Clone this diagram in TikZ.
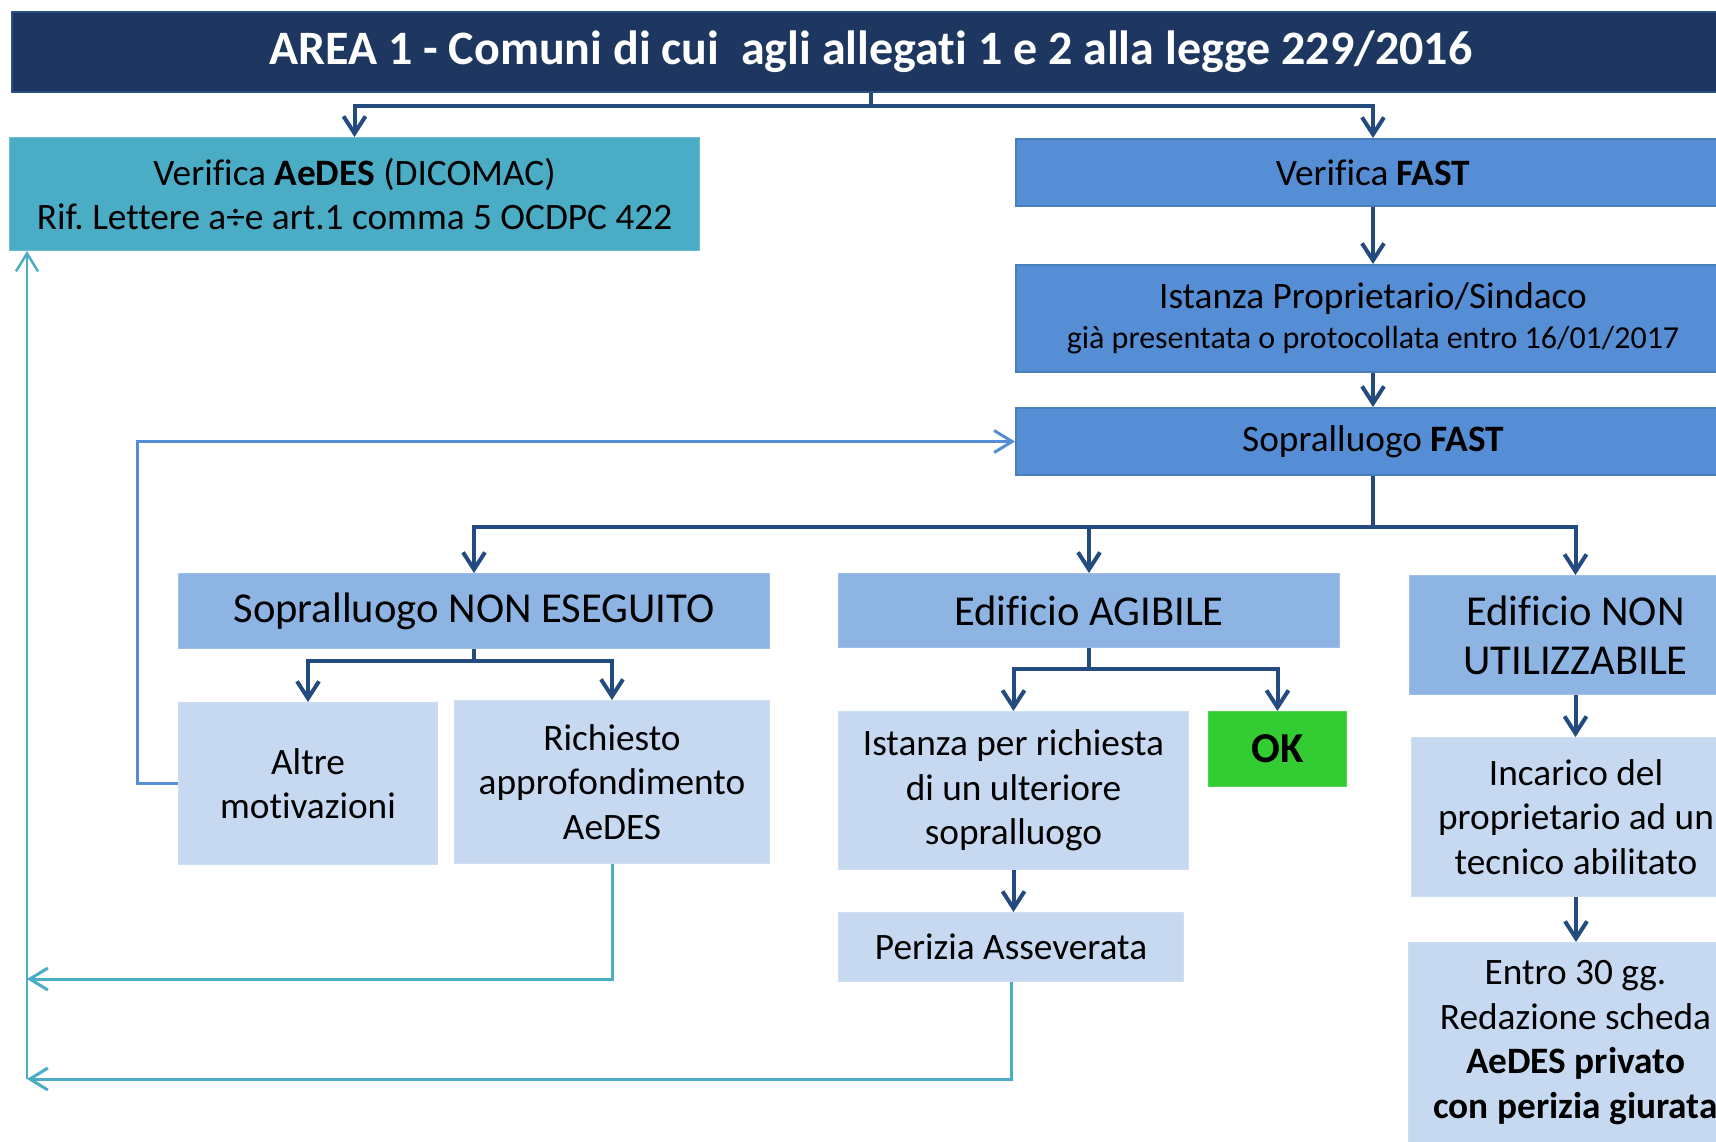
\documentclass[tikz,border=0pt]{standalone}
\usepackage{fontspec}
\setmainfont[Ligatures=NoCommon]{Carlito}
\usetikzlibrary{arrows.meta,calc}
\frenchspacing
\definecolor{titlec}{HTML}{1D3761}
\definecolor{titleedge}{HTML}{2C4F86}
\definecolor{aedesc}{HTML}{4BACC6}
\definecolor{fastc}{HTML}{558ED5}
\definecolor{fastedge}{HTML}{4A7EBB}
\definecolor{midc}{HTML}{8EB4E3}
\definecolor{lightc}{HTML}{C6D9F1}
\definecolor{okc}{HTML}{33CC33}
\definecolor{navyc}{HTML}{234B80}
\definecolor{cyanc}{HTML}{4BACC6}
\definecolor{bluec}{HTML}{558ED5}
\tikzset{
  basebox/.style={anchor=north west, inner sep=0pt, align=center, text=black, font=\fontsize{37.3}{44.5}\selectfont},
  titlebox/.style={basebox, fill=titlec, draw=titleedge, line width=1.5pt, text=white, font=\fontsize{48}{56}\selectfont\bfseries},
  aedesbox/.style={basebox, fill=aedesc, draw=aedesc!80!white, line width=1pt},
  fastbox/.style={basebox, fill=fastc, draw=fastedge, line width=2pt},
  midbox/.style={basebox, fill=midc, draw=midc!85!white, line width=1pt, font=\fontsize{42.6}{49}\selectfont},
  lightbox/.style={basebox, fill=lightc, draw=lightc!85!white, line width=1pt},
  okbox/.style={basebox, fill=okc, draw=okc!85!white, line width=1pt, font=\fontsize{42.6}{49}\selectfont\bfseries},
  navyarrow/.style={draw=navyc, line width=4pt, -{Straight Barb[length=17pt,width=22pt]}},
  cyanarrow/.style={draw=cyanc, line width=3pt, -{Straight Barb[length=18pt,width=22pt]}},
  bluearrow/.style={draw=bluec, line width=3pt, -{Straight Barb[length=18pt,width=22pt]}},
}
\begin{document}
\begin{tikzpicture}[x=1pt,y=-1pt]
\useasboundingbox (0,0) rectangle (1716,1141);
\clip (0,0) rectangle (1716,1141);
\fill[white] (0,0) rectangle (1716,1141);

\node[titlebox, minimum width=1718pt, minimum height=80pt] (title) at (11,11) {AREA 1 - Comuni di cui\ \ agli allegati 1 e 2 alla legge 229/2016};

\node[aedesbox, minimum width=690pt, minimum height=113pt] (aedes) at (9,137) {Verifica \textbf{AeDES} (DICOMAC)\\Rif. Lettere a÷e art.1 comma 5 OCDPC 422};

\node[fastbox, minimum width=714pt, minimum height=67pt] (vfast) at (1015,138) {Verifica \textbf{FAST}};
\node[fastbox, minimum width=714pt, minimum height=107pt, font=\fontsize{37.3}{40}\selectfont] (istanza) at (1015,264) {Istanza Proprietario/Sindaco\\{\fontsize{32}{40}\selectfont già presentata o protocollata entro 16/01/2017}};
\node[fastbox, minimum width=714pt, minimum height=67pt] (sfast) at (1015,407) {Sopralluogo \textbf{FAST}};

\node[midbox, minimum width=591pt, minimum height=75pt] (nonese) at (178,573) {Sopralluogo NON ESEGUITO};
\node[midbox, minimum width=501pt, minimum height=74pt] (agib) at (838,573) {Edificio AGIBILE};
\node[midbox, minimum width=332pt, minimum height=119pt] (nonutil) at (1409,575) {Edificio NON\\UTILIZZABILE};

\node[lightbox, minimum width=259pt, minimum height=162pt] (altre) at (178,702) {Altre\\motivazioni};
\node[lightbox, minimum width=315pt, minimum height=163pt] (richiesto) at (454,700) {Richiesto\\approfondimento\\AeDES};
\node[lightbox, minimum width=350pt, minimum height=158pt] (istric) at (838,711) {Istanza per richiesta\\di un ulteriore\\sopralluogo};
\node[okbox, minimum width=138pt, minimum height=75pt] (ok) at (1208,711) {OK};
\node[lightbox, minimum width=345pt, minimum height=69pt] (perizia) at (838,912) {Perizia Asseverata};
\node[lightbox, minimum width=329pt, minimum height=159pt] (incarico) at (1411,737) {Incarico del\\proprietario ad un\\tecnico abilitato};
\node[lightbox, minimum width=334pt, minimum height=200pt] (entro) at (1408,942) {Entro 30 gg.\\Redazione scheda\\\textbf{AeDES privato}\\\textbf{con perizia giurata}};

% navy connectors
\draw[navyarrow] (title.south) -- ++(0,13) -| (aedes.north);
\draw[navyarrow] (title.south) -- ++(0,13) -| (vfast.north);
\draw[navyarrow] (vfast.south) -- (istanza.north);
\draw[navyarrow] (istanza.south) -- (sfast.north);
\draw[navyarrow] (sfast.south) -- ++(0,51) -| (nonese.north);
\draw[navyarrow] (sfast.south) -- ++(0,51) -| (agib.north);
\draw[navyarrow] (sfast.south) -- ++(0,51) -| (nonutil.north);
\draw[navyarrow] (nonese.south) -- ++(0,12) -| (altre.north);
\draw[navyarrow] (nonese.south) -- ++(0,12) -| (richiesto.north);
\draw[navyarrow] (agib.south) -- ++(0,21) -| (istric.north);
\draw[navyarrow] (agib.south) -- ++(0,21) -| (ok.north);
\draw[navyarrow] (istric.south) -- (istric.south |- perizia.north);
\draw[navyarrow] (nonutil.south) -- (nonutil.south |- incarico.north);
\draw[navyarrow] (incarico.south) -- (incarico.south |- entro.north);

% cyan feedback
\coordinate (loopA) at (27,979);
\coordinate (loopB) at (27,1079);
\draw[cyanarrow] (richiesto.south) |- (loopA);
\draw[cyanarrow] (perizia.south) |- (loopB);
\draw[cyanarrow, line width=2.5pt] (loopB) -- (loopB |- aedes.south);

% blue feedback
\draw[bluearrow] (altre.west) -- ++(-41,0) |- (sfast.west);
\end{tikzpicture}
\end{document}
